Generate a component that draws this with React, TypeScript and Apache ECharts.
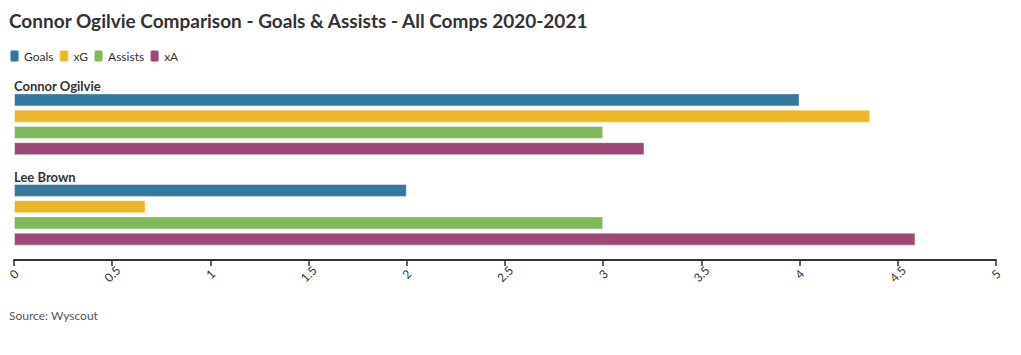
import React, { useEffect, useRef } from "react";
import * as echarts from "echarts";

const players = ["Connor Ogilvie", "Lee Brown"];
const seriesNames = ["Goals", "xG", "Assists", "xA"];
const goals = [4, 2];
const xG = [4.36, 0.67];
const assists = [3, 3];
const xA = [3.21, 4.59];
const colors = ["#34789E", "#EEB524", "#80B85B", "#9C4977"];
const titleText = "Connor Ogilvie Comparison - Goals & Assists - All Comps 2020-2021";
const sourceText = "Source: Wyscout";

const FONT = "Lato, 'Open Sans', sans-serif";

export default function App() {
  const ref = useRef<HTMLDivElement>(null);
  useEffect(() => {
    document.body.style.margin = "0";
    const chart = echarts.init(ref.current!, null, { renderer: "svg" });
    const values = [goals, xG, assists, xA];
    chart.setOption({
      animation: false,
      textStyle: { fontFamily: FONT },
      title: {
        text: titleText,
        left: 4,
        top: 6,
        textStyle: { fontSize: 19, fontWeight: "bold", color: "#333", fontFamily: FONT },
      },
      legend: {
        left: 4,
        top: 44,
        itemWidth: 9,
        itemHeight: 12,
        itemGap: 5,
        icon: "roundRect",
        textStyle: { fontSize: 12, color: "#333" },
        data: seriesNames,
      },
      graphic: [
        {
          type: "text",
          left: 9,
          top: 309,
          style: { text: sourceText, fontSize: 12, fill: "#555", fontFamily: FONT },
        },
      ],
      grid: { left: 14, right: 25, top: 79, height: 181, containLabel: false },
      xAxis: {
        type: "value",
        min: 0,
        max: 5,
        interval: 0.5,
        splitLine: { show: false },
        axisLine: { show: true, lineStyle: { color: "#333", width: 2 } },
        axisTick: { show: true, length: 6, lineStyle: { color: "#333", width: 1.5 } },
        axisLabel: {
          rotate: 45,
          color: "#333",
          fontSize: 12,
          margin: 14,
          align: "center",
          verticalAlign: "middle",
          showMaxLabel: true,
          showMinLabel: true,
        },
      },
      yAxis: {
        type: "category",
        data: players,
        inverse: true,
        axisLine: { show: false },
        axisTick: { show: false },
        axisLabel: {
          inside: true,
          margin: 0,
          align: "left",
          verticalAlign: "middle",
          lineHeight: 12.67,
          formatter: (v: string) => v + "\n \n \n \n \n \n ",
          fontWeight: "bold",
          fontSize: 13,
          color: "#333",
        },
      },
      series: seriesNames.map((name, i) => ({
        name,
        type: "bar",
        data: values[i],
        barWidth: 13,
        barGap: "25%",
        itemStyle: {
          color: colors[i],
          borderColor: "rgba(255,255,255,0.45)",
          borderWidth: 1,
        },
      })),
    });
    return () => chart.dispose();
  }, []);
  return <div ref={ref} style={{ width: 1021, height: 355 }} />;
}
